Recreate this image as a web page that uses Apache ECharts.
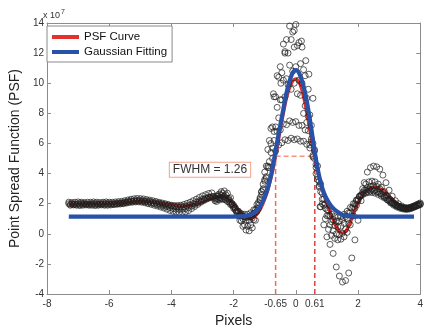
<!DOCTYPE html>
<html>
<head>
<meta charset="utf-8">
<script src="https://cdn.jsdelivr.net/npm/echarts@6/dist/echarts.min.js"></script>
<style>
  html, body { margin: 0; padding: 0; background: #fff; }
  #chart { width: 426px; height: 333px; }
</style>
</head>
<body>
<div id="chart"></div>
<script>
// ---- Axis ranges and tick values ----
const xMin = -8, xMax = 4, yMin = -4, yMax = 14;
const xLabelValues = [-8, -6, -4, -2, -0.65, 0, 0.61, 2, 4];
const xTickValues = [-8, -6, -4, -2, 0, 2, 4];

// ---- FWHM annotation ----
const fwhmLeft = -0.65, fwhmRight = 0.61, halfMax = 5.15, fwhmValue = 1.26;
const fwhmLabelAt = [-2.76, 4.26];

// ---- PSF curve (red) ----
const psfX = [-7.3, -6.8, -6.3, -5.8, -5.4, -5.0, -4.6, -4.2, -3.9, -3.6,
  -3.3, -3.0, -2.8, -2.6, -2.5, -2.4, -2.3, -2.2, -2.1, -2.0,
  -1.9, -1.8, -1.7, -1.6, -1.5, -1.4, -1.3, -1.2, -1.1, -1.0,
  -0.9, -0.8, -0.7, -0.6, -0.5, -0.4, -0.3, -0.2, -0.1, 0,
  0.1, 0.2, 0.3, 0.4, 0.5, 0.6, 0.7, 0.8, 0.9, 1.0,
  1.1, 1.2, 1.3, 1.4, 1.5, 1.6, 1.7, 1.8, 1.9, 2.0,
  2.1, 2.2, 2.3, 2.4, 2.5, 2.6, 2.7, 2.8, 2.9, 3.0,
  3.1, 3.2, 3.3, 3.4, 3.5, 3.6, 3.7, 3.8];
const psfY = [1.97, 1.97, 1.98, 2.0, 2.08, 2.14, 2.12, 2.0, 1.9, 1.86,
  1.92, 2.1, 2.3, 2.45, 2.5, 2.52, 2.48, 2.38, 2.2, 1.95,
  1.7, 1.48, 1.28, 1.12, 1.03, 1.04, 1.2, 1.45, 1.8, 2.3,
  2.9, 3.7, 4.6, 5.7, 6.9, 8.0, 9.0, 9.7, 10.15, 10.3,
  10.1, 9.5, 8.6, 7.5, 6.3, 5.2, 4.2, 3.3, 2.6, 2.0,
  1.45, 0.95, 0.5, 0.15, 0.05, 0.15, 0.5, 1.0, 1.55, 2.05,
  2.45, 2.75, 2.95, 3.07, 3.12, 3.1, 3.02, 2.88, 2.7, 2.5,
  2.3, 2.12, 1.96, 1.84, 1.76, 1.72, 1.74, 1.8];

// ---- Gaussian fitting (blue) ----
const fitX = [-7.3, -2.0, -1.8, -1.6, -1.5, -1.4, -1.3, -1.2, -1.1, -1.0,
  -0.9, -0.8, -0.7, -0.6, -0.5, -0.4, -0.3, -0.2, -0.1, 0,
  0.1, 0.2, 0.3, 0.4, 0.5, 0.6, 0.7, 0.8, 0.9, 1.0,
  1.1, 1.2, 1.3, 1.4, 1.5, 1.6, 1.8, 2.0, 3.8];
const fitY = [1.15, 1.15, 1.16, 1.19, 1.24, 1.32, 1.46, 1.68, 2.0, 2.45,
  3.05, 3.85, 4.95, 6.1, 7.2, 8.3, 9.35, 10.15, 10.7, 10.88,
  10.7, 10.15, 9.35, 8.25, 6.95, 5.55, 4.35, 3.4, 2.75, 2.3,
  1.95, 1.7, 1.52, 1.38, 1.28, 1.21, 1.16, 1.15, 1.15];

// ---- Measured samples: flat wing ----
const flatX1 = [-7.3, -7.2, -7.1, -7.0, -6.9, -6.8, -6.7, -6.6, -6.5, -6.4,
  -6.3, -6.2, -6.1, -6.0, -5.9, -5.8, -5.7, -5.6, -5.5, -5.4,
  -5.3, -5.2, -5.1, -5.0, -4.9, -4.8, -4.7, -4.6, -4.5, -4.4,
  -4.3, -4.2, -4.1, -4.0, -3.9, -3.8, -3.7, -3.6, -3.5, -3.4,
  -3.3, -3.2, -3.1, -3.0, -2.9, -2.8, -2.7];
const flatX2 = [-7.25, -7.15, -7.05, -6.95, -6.85, -6.75, -6.65, -6.55, -6.45, -6.35,
  -6.25, -6.15, -6.05, -5.95, -5.85, -5.75, -5.65, -5.55, -5.45, -5.35,
  -5.25, -5.15, -5.05, -4.95, -4.85, -4.75, -4.65, -4.55, -4.45, -4.35,
  -4.25, -4.15, -4.05, -3.95, -3.85, -3.75, -3.65, -3.55, -3.45, -3.35,
  -3.25, -3.15, -3.05, -2.95, -2.85, -2.75, -2.65];
const flatA = [2.0, 2.0, 1.98, 2.0, 2.02, 2.0, 1.98, 2.0, 2.02, 2.0,
  1.98, 2.0, 2.02, 2.0, 2.0, 2.02, 2.04, 2.06, 2.1, 2.14,
  2.18, 2.2, 2.22, 2.22, 2.2, 2.18, 2.14, 2.1, 2.06, 2.02,
  1.98, 1.94, 1.9, 1.86, 1.82, 1.8, 1.8, 1.82, 1.86, 1.92,
  2.0, 2.1, 2.2, 2.3, 2.38, 2.44, 2.48];
const flatB = [1.9, 1.92, 1.9, 1.88, 1.9, 1.92, 1.9, 1.9, 1.88, 1.9,
  1.92, 1.9, 1.9, 1.92, 1.94, 1.96, 1.98, 2.0, 2.04, 2.08,
  2.1, 2.12, 2.12, 2.1, 2.06, 2.0, 1.96, 1.9, 1.85, 1.78,
  1.72, 1.64, 1.56, 1.5, 1.45, 1.42, 1.42, 1.46, 1.55, 1.68,
  1.82, 1.96, 2.1, 2.22, 2.32, 2.4, 2.45];
const flatC = [2.1, 2.08, 2.1, 2.12, 2.1, 2.08, 2.1, 2.1, 2.12, 2.1,
  2.08, 2.1, 2.12, 2.1, 2.1, 2.12, 2.14, 2.16, 2.2, 2.25,
  2.3, 2.33, 2.35, 2.34, 2.32, 2.28, 2.24, 2.2, 2.15, 2.1,
  2.05, 2.0, 1.95, 1.9, 1.88, 1.88, 1.9, 1.95, 2.02, 2.1,
  2.2, 2.3, 2.42, 2.52, 2.6, 2.68, 2.72];
const flatD = [1.96, 1.95, 1.96, 1.94, 1.96, 1.97, 1.95, 1.96, 1.95, 1.96,
  1.97, 1.95, 1.96, 1.97, 1.98, 2.0, 2.02, 2.04, 2.08, 2.12,
  2.15, 2.17, 2.18, 2.17, 2.14, 2.1, 2.05, 2.0, 1.95, 1.9,
  1.85, 1.8, 1.74, 1.68, 1.64, 1.62, 1.63, 1.67, 1.74, 1.84,
  1.95, 2.06, 2.17, 2.27, 2.36, 2.43, 2.48];

// ---- Measured samples: core ----
const coreX1 = [-2.6, -2.5, -2.4, -2.3, -2.2, -2.1, -2.0, -1.9, -1.8, -1.7,
  -1.6, -1.5, -1.4, -1.3, -1.2, -1.1, -1.0, -0.9, -0.8, -0.7,
  -0.6, -0.5, -0.4, -0.3, -0.2, -0.1, 0, 0.1, 0.2, 0.3,
  0.4, 0.5, 0.6, 0.7, 0.8, 0.9, 1.0, 1.1, 1.2, 1.3,
  1.4, 1.5, 1.6, 1.7, 1.8, 1.9, 2.0, 2.1, 2.2, 2.3,
  2.4, 2.5, 2.6, 2.7, 2.8, 2.9, 3.0, 3.1, 3.2, 3.3,
  3.4, 3.5, 3.6, 3.7, 3.8, 3.9, 4.0];
const coreX2 = [-2.55, -2.45, -2.35, -2.25, -2.15, -2.05, -1.95, -1.85, -1.75, -1.65,
  -1.55, -1.45, -1.35, -1.25, -1.15, -1.05, -0.95, -0.85, -0.75, -0.65,
  -0.55, -0.45, -0.35, -0.25, -0.15, -0.05, 0.05, 0.15, 0.25, 0.35,
  0.45, 0.55, 0.65, 0.75, 0.85, 0.95, 1.05, 1.15, 1.25, 1.35,
  1.45, 1.55, 1.65, 1.75, 1.85, 1.95, 2.05, 2.15, 2.25, 2.35,
  2.45, 2.55, 2.65, 2.75, 2.85, 2.95, 3.05, 3.15, 3.25, 3.35,
  3.45, 3.55, 3.65, 3.75, 3.85, 3.95];
const profA = [2.3, 2.6, 2.8, 2.85, 2.7, 2.4, 1.9, 1.4, 0.9, 0.5,
  0.25, 0.2, 0.4, 0.9, 1.7, 2.8, 4.1, 5.6, 7.0, 9.1,
  10.5, 11.1, 12.6, 12.9, 13.8, 13.4, 13.9, 12.7, 12.4, 10.5,
  9.6, 7.2, 5.5, 3.6, 1.8, 0.6, -0.2, -0.7, -1.3, -2.2,
  -2.8, -3.2, -3.1, -2.6, -1.6, -0.4, 0.9, 2.2, 3.4, 4.1,
  4.4, 4.5, 4.45, 4.3, 3.9, 3.4, 2.9, 2.5, 2.2, 2.0,
  1.85, 1.75, 1.7, 1.75, 1.85, 1.95, 2.05];
const profB = [2.5, 2.65, 2.7, 2.6, 2.35, 2.0, 1.6, 1.2, 0.85, 0.6,
  0.5, 0.6, 0.95, 1.5, 2.3, 3.3, 4.5, 6.2, 7.1, 9.1,
  10.4, 10.7, 12.1, 12.0, 12.9, 12.4, 12.5, 11.3, 10.9, 9.0,
  7.9, 6.0, 4.6, 3.2, 2.0, 1.0, 0.3, -0.1, -0.3, -0.4,
  -0.35, -0.2, 0.1, 0.6, 1.2, 1.9, 2.5, 3.0, 3.3, 3.45,
  3.5, 3.45, 3.3, 3.1, 2.8, 2.5, 2.25, 2.05, 1.9, 1.8,
  1.72, 1.7, 1.75, 1.82, 1.9, 2.0];
const profC = [2.4, 2.5, 2.55, 2.5, 2.35, 2.1, 1.8, 1.5, 1.2, 1.0,
  0.9, 0.9, 1.05, 1.4, 1.9, 2.6, 3.5, 4.4, 6.0, 6.8,
  8.4, 8.9, 10.2, 10.3, 11.2, 10.8, 11.1, 10.2, 10.0, 8.5,
  7.8, 6.1, 5.0, 3.8, 2.8, 1.9, 1.2, 0.6, 0.2, 0.0,
  -0.05, 0.05, 0.3, 0.7, 1.2, 1.7, 2.2, 2.6, 2.9, 3.05,
  3.15, 3.2, 3.15, 3.0, 2.8, 2.55, 2.3, 2.1, 1.95, 1.82,
  1.72, 1.66, 1.65, 1.7, 1.78, 1.88, 1.95];
const profD = [2.3, 2.4, 2.45, 2.4, 2.25, 2.0, 1.75, 1.5, 1.3, 1.15,
  1.1, 1.15, 1.35, 1.7, 2.2, 2.9, 3.8, 4.8, 5.7, 7.1,
  7.7, 8.9, 9.1, 9.9, 9.6, 10.0, 9.3, 9.2, 8.0, 7.4,
  5.9, 5.1, 4.0, 3.1, 2.3, 1.7, 1.2, 0.8, 0.55, 0.45,
  0.5, 0.7, 1.0, 1.4, 1.8, 2.2, 2.5, 2.75, 2.9, 2.95,
  2.95, 2.9, 2.8, 2.65, 2.45, 2.25, 2.05, 1.9, 1.78, 1.7,
  1.65, 1.62, 1.65, 1.72, 1.8, 1.9];
const profE = [2.2, 2.3, 2.35, 2.3, 2.15, 1.95, 1.7, 1.5, 1.3, 1.15,
  1.1, 1.15, 1.3, 1.6, 2.1, 2.8, 3.6, 4.5, 5.4, 6.2,
  6.8, 6.9, 7.3, 7.25, 7.5, 7.4, 7.45, 7.2, 7.2, 6.9,
  6.85, 6.3, 5.6, 4.5, 3.3, 2.3, 1.6, 1.2, 0.95, 0.85,
  0.85, 0.95, 1.15, 1.4, 1.7, 2.0, 2.3, 2.55, 2.7, 2.8,
  2.85, 2.85, 2.8, 2.7, 2.55, 2.4, 2.2, 2.05, 1.9, 1.8,
  1.72, 1.68, 1.68, 1.72, 1.8, 1.88, 1.97];
const profF = [2.15, 2.25, 2.3, 2.25, 2.1, 1.9, 1.7, 1.5, 1.35, 1.3,
  1.3, 1.4, 1.6, 1.95, 2.4, 3.0, 3.7, 4.4, 5.0, 5.5,
  5.9, 6.05, 6.25, 6.2, 6.35, 6.25, 6.3, 6.15, 6.15, 5.95,
  5.7, 5.2, 4.4, 3.5, 2.7, 2.0, 1.55, 1.3, 1.15, 1.1,
  1.15, 1.3, 1.5, 1.75, 2.0, 2.25, 2.45, 2.6, 2.7, 2.75,
  2.75, 2.7, 2.62, 2.5, 2.38, 2.25, 2.1, 1.98, 1.88, 1.8,
  1.75, 1.72, 1.73, 1.78, 1.85, 1.92];
const extraX = [0.78, -0.05, 0.18, -0.35, 0.32, -0.72, 0.55, -0.48, 0.42];
const extraY = [1.8, 13.5, 12.8, 12.0, 11.5, 9.3, 9.0, 10.0, 10.6];

// ---- Styling ----
const redColor = '#e3322b';
const blueColor = '#2752a8';
const axisGray = '#8c8c8c';
const textFont = '"Liberation Sans", Arial, sans-serif';
const tickFont = '"Liberation Sans Narrow", "Liberation Sans", Arial, sans-serif';

const pairs = (xs, ys) => xs.map((x, i) => [x, ys[i]]);

const samplePoints = [].concat(
  pairs(flatX1, flatA), pairs(flatX2, flatB), pairs(flatX1, flatC), pairs(flatX2, flatD),
  pairs(coreX1, profA), pairs(coreX2, profB), pairs(coreX1, profC),
  pairs(coreX2, profD), pairs(coreX1, profE), pairs(coreX2, profF),
  pairs(extraX, extraY)
);

const chart = echarts.init(document.getElementById('chart'), null, { renderer: 'canvas' });

const hiddenAxisCommon = {
  type: 'value',
  axisLine: { show: true, onZero: false, lineStyle: { color: axisGray, width: 1 } },
  axisTick: { show: true, inside: true, length: 4, lineStyle: { color: axisGray } },
  axisLabel: { show: false },
  splitLine: { show: false }
};

const dashedLine = (data, color) => ({
  type: 'line',
  data: data,
  showSymbol: false,
  silent: true,
  z: 3,
  lineStyle: { color: color, width: 1.5, type: [5, 3] },
  itemStyle: { color: color }
});

const hLine = dashedLine([[fwhmLeft, halfMax], [fwhmRight, halfMax]], '#f5957c');
hLine.markPoint = {
  symbol: 'rect',
  symbolSize: 1,
  silent: true,
  itemStyle: { color: 'rgba(0,0,0,0)' },
  label: {
    show: true,
    position: 'inside',
    formatter: 'FWHM = ' + fwhmValue.toFixed(2),
    color: '#333',
    fontSize: 12,
    fontFamily: textFont,
    backgroundColor: '#fff',
    borderColor: '#f4a388',
    borderWidth: 1,
    padding: [1, 3, 0, 3],
    lineHeight: 13
  },
  data: [{ coord: fwhmLabelAt }]
};

chart.setOption({
  animation: false,
  backgroundColor: '#fff',
  grid: { left: 43, right: 2, top: 23, bottom: 31 },
  legend: {
    data: ['PSF Curve', 'Gaussian Fitting'],
    orient: 'vertical',
    left: 47,
    top: 26,
    icon: 'rect',
    itemWidth: 27,
    itemHeight: 4,
    itemGap: 3,
    padding: [5, 5, 4, 5],
    backgroundColor: '#fff',
    borderColor: '#8a8a8a',
    borderWidth: 1,
    borderRadius: 0,
    selectedMode: false,
    textStyle: { color: '#111', fontSize: 11.5, fontFamily: textFont }
  },
  graphic: [{
    type: 'text',
    left: 43,
    top: 9,
    style: {
      text: 'x 10{sup|7}',
      fill: '#333',
      fontSize: 9,
      fontFamily: textFont,
      rich: { sup: { fontSize: 7, verticalAlign: 'top', padding: [0, 0, 6, 1] } }
    }
  }],
  xAxis: [{
    type: 'value',
    min: xMin,
    max: xMax,
    interval: 2,
    position: 'bottom',
    name: 'Pixels',
    nameLocation: 'middle',
    nameGap: 16,
    nameTextStyle: { color: '#222', fontSize: 14, fontFamily: textFont },
    axisLine: { show: true, onZero: false, lineStyle: { color: axisGray, width: 1 } },
    axisTick: { show: true, inside: true, length: 4, customValues: xTickValues, lineStyle: { color: axisGray } },
    axisLabel: { customValues: xLabelValues, color: '#333', fontSize: 10, fontFamily: tickFont, margin: 5 },
    splitLine: { show: false }
  }, Object.assign({ min: xMin, max: xMax, interval: 2, position: 'top' }, hiddenAxisCommon)],
  yAxis: [{
    type: 'value',
    min: yMin,
    max: yMax,
    interval: 2,
    position: 'left',
    name: 'Point Spread Function (PSF)',
    nameLocation: 'middle',
    nameGap: 21,
    nameRotate: 90,
    nameTextStyle: { color: '#222', fontSize: 14, fontFamily: textFont },
    axisLine: { show: true, onZero: false, lineStyle: { color: axisGray, width: 1 } },
    axisTick: { show: true, inside: true, length: 4, lineStyle: { color: axisGray } },
    axisLabel: { color: '#333', fontSize: 10, fontFamily: tickFont, margin: 3 },
    splitLine: { show: false }
  }, Object.assign({ min: yMin, max: yMax, interval: 2, position: 'right' }, hiddenAxisCommon)],
  series: [
    {
      name: 'PSF Curve',
      type: 'line',
      data: pairs(psfX, psfY),
      smooth: 0.35,
      showSymbol: false,
      silent: true,
      z: 2,
      lineStyle: { color: redColor, width: 3.2 },
      itemStyle: { color: redColor }
    },
    hLine,
    dashedLine([[fwhmLeft, yMin], [fwhmLeft, halfMax]], '#f2694f'),
    dashedLine([[fwhmRight, yMin], [fwhmRight, halfMax]], '#e8403a'),
    {
      name: 'Samples',
      type: 'scatter',
      data: samplePoints,
      symbol: 'circle',
      symbolSize: 6,
      silent: true,
      z: 4,
      itemStyle: { color: 'rgba(0,0,0,0)', borderColor: '#1e1e1e', borderWidth: 0.9 }
    },
    {
      name: 'Gaussian Fitting',
      type: 'line',
      data: pairs(fitX, fitY),
      smooth: 0.3,
      showSymbol: false,
      silent: true,
      z: 5,
      lineStyle: { color: blueColor, width: 4.2 },
      itemStyle: { color: blueColor }
    }
  ]
});
</script>
</body>
</html>
